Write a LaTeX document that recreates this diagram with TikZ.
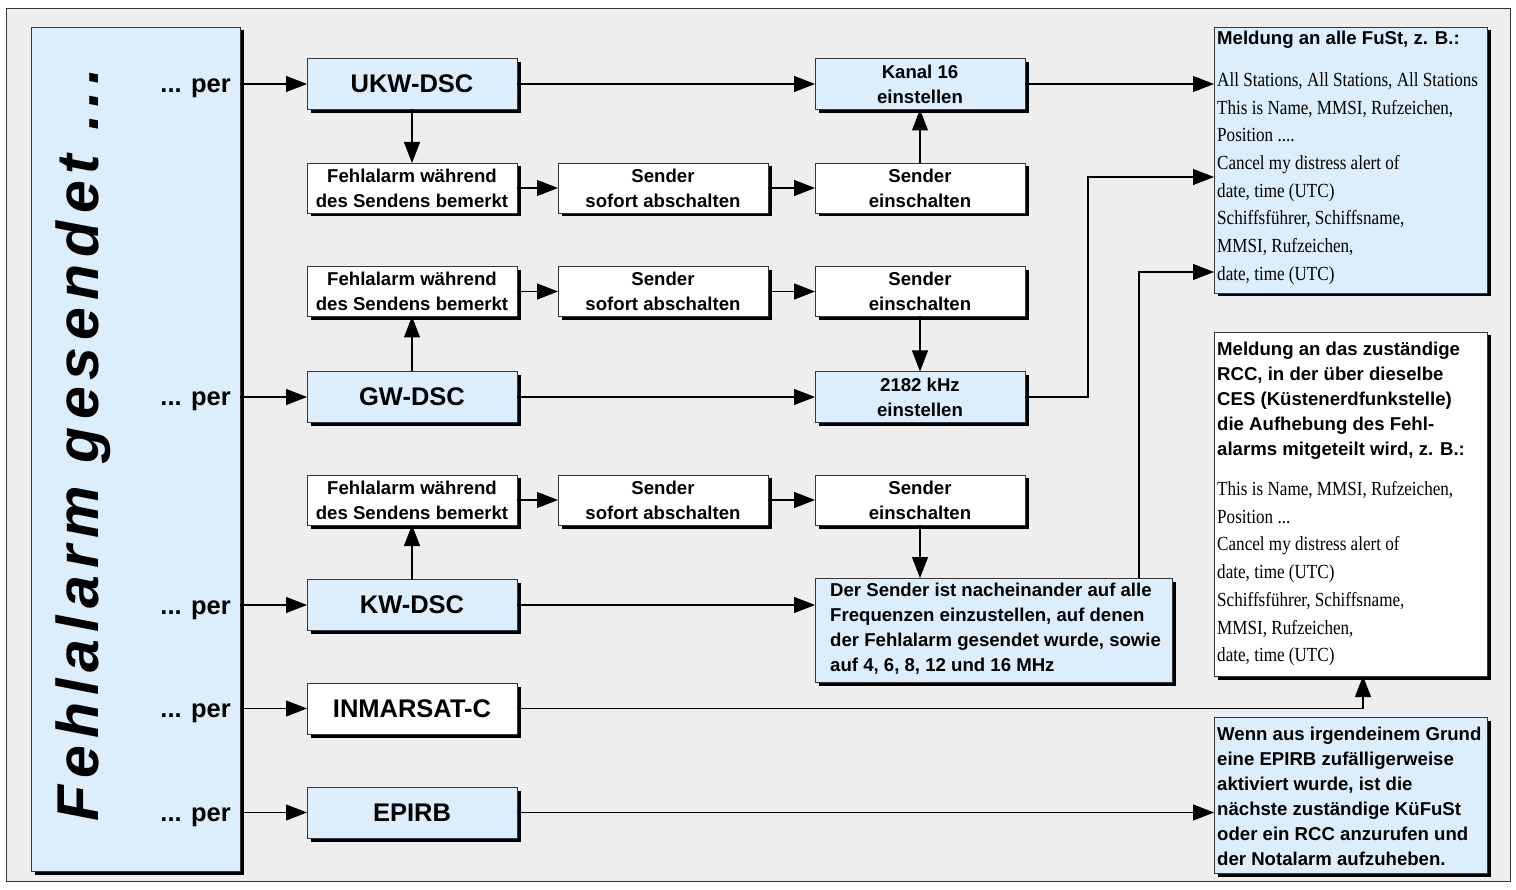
\documentclass[tikz,border=0pt]{standalone}
\usepackage{fontspec}
\usetikzlibrary{arrows.meta,shadows}
\newfontfamily\sansf{Liberation Sans}
\newfontfamily\tnrf{Liberation Serif}[FakeStretch=0.855]
\newfontfamily\titlef{Liberation Sans}[LetterSpace=12]
\newcommand\mainlab{\sansf\bfseries\fontsize{25.5}{30}\selectfont}
\newcommand\smalllab{\sansf\bfseries\fontsize{18.6}{25}\selectfont}
\newcommand\seriflab{\tnrf\fontsize{20}{27.7}\selectfont}
\definecolor{bg}{RGB}{238,238,238}
\definecolor{lb}{RGB}{220,238,252}
\definecolor{bd}{RGB}{55,55,55}
\tikzset{
  nbox/.style={draw=bd, line width=0.9pt, fill=lb, inner sep=0pt, outer sep=0pt, align=center,
    drop shadow={shadow xshift=3.5pt, shadow yshift=-3.5pt, opacity=1, fill=black}},
  bigbox/.style={nbox, minimum width=210pt, minimum height=51pt, font=\mainlab},
  smallbox/.style={nbox, fill=white, minimum width=210pt, minimum height=50pt, font=\smalllab},
  perlab/.style={anchor=base east, inner sep=0pt, font=\mainlab},
  txt/.style={anchor=north west, inner sep=0pt, align=left},
  arr/.style={line width=1.1pt, -{Triangle[length=21pt,width=16pt]}},
}
\begin{document}
\begin{tikzpicture}[x=1pt,y=-1pt]
\useasboundingbox (0,0) rectangle (1516,890);
\draw[draw=bd, fill=bg, line width=1pt] (6,9) rectangle (1510,881);
% left column
\node[nbox, minimum width=209pt, minimum height=844pt] (left) at (135.5,449) {};
\node[anchor=base west, rotate=90, inner sep=0pt, font=\titlef\bfseries\itshape\fontsize{59}{60}\selectfont] (title) at (98,822) {Fehlalarm gesendet ...};
\node[perlab] (per1) at (231,93) {... per};
\node[perlab] (per2) at (231,406) {... per};
\node[perlab] (per3) at (231,614) {... per};
\node[perlab] (per4) at (231,717.5) {... per};
\node[perlab] (per5) at (231,821.5) {... per};
% first column
\node[bigbox] (ukw) at (412,84) {UKW-DSC};
\node[bigbox] (gw) at (412,397) {GW-DSC};
\node[bigbox] (kw) at (412,605) {KW-DSC};
\node[bigbox, fill=white] (inm) at (412,708.5) {INMARSAT-C};
\node[bigbox] (epirb) at (412,812.5) {EPIRB};
% rows
\node[smallbox] (f1) at (412,188) {Fehlalarm während\\des Sendens bemerkt};
\node[smallbox] (s1) at (663,188) {Sender\\sofort abschalten};
\node[smallbox] (e1) at (920,188) {Sender\\einschalten};
\node[smallbox, fill=lb, minimum height=51pt] (k16) at (920,84) {Kanal 16\\einstellen};
\node[smallbox] (f2) at (412,291.5) {Fehlalarm während\\des Sendens bemerkt};
\node[smallbox] (s2) at (663,291.5) {Sender\\sofort abschalten};
\node[smallbox] (e2) at (920,291.5) {Sender\\einschalten};
\node[smallbox, fill=lb, minimum height=51pt] (k2182) at (920,397) {2182 kHz\\einstellen};
\node[smallbox] (f3) at (412,500) {Fehlalarm während\\des Sendens bemerkt};
\node[smallbox] (s3) at (663,500) {Sender\\sofort abschalten};
\node[smallbox] (e3) at (920,500) {Sender\\einschalten};
\node[nbox, minimum width=357pt, minimum height=104pt] (ds) at (993.5,630) {};
\node[txt, font=\smalllab] (dst) at (830,582.4) {Der Sender ist nacheinander auf alle\\Frequenzen einzustellen, auf denen\\der Fehlalarm gesendet wurde, sowie\\auf 4, 6, 8, 12 und 16 MHz};
% right boxes
\node[nbox, minimum width=273pt, minimum height=266pt] (r1) at (1350.5,160) {};
\node[anchor=base west, inner sep=0pt, font=\smalllab] (r1h) at (1217,45) {Meldung an alle FuSt, z. B.:};
\node[txt, font=\seriflab] (r1t) at (1217,72.3) {All Stations, All Stations, All Stations\\This is Name, MMSI, Rufzeichen,\\Position ....\\Cancel my distress alert of\\date, time (UTC)\\Schiffsführer, Schiffsname,\\MMSI, Rufzeichen,\\date, time (UTC)};
\node[nbox, fill=white, minimum width=273pt, minimum height=344pt] (r2) at (1350.5,504) {};
\node[txt, font=\smalllab] (r2h) at (1217,341.4) {Meldung an das zuständige\\RCC, in der über dieselbe\\CES (Küstenerdfunkstelle)\\die Aufhebung des Fehl-\\alarms mitgeteilt wird, z. B.:};
\node[txt, font=\seriflab] (r2t) at (1217,481.3) {This is Name, MMSI, Rufzeichen,\\Position ...\\Cancel my distress alert of\\date, time (UTC)\\Schiffsführer, Schiffsname,\\MMSI, Rufzeichen,\\date, time (UTC)};
\node[nbox, minimum width=273pt, minimum height=156pt] (r3) at (1350.5,795) {};
\node[txt, font=\smalllab] (r3t) at (1217,726.4) {Wenn aus irgendeinem Grund\\eine EPIRB zufälligerweise\\aktiviert wurde, ist die\\nächste zuständige KüFuSt\\oder ein RCC anzurufen und\\der Notalarm aufzuheben.};
% bend coordinates
\coordinate (b2) at (1088,177);
\coordinate (b3) at (1139,272);
\coordinate (b4) at (1363,0);
% connectors from left box
\foreach \n in {ukw,gw,kw,inm,epirb} \draw[arr] (\n.west -| left.east) -- (\n.west);
% row 1
\draw[arr] (ukw.east) -- (k16.west);
\draw[arr] (ukw.south) -- (f1.north);
\draw[arr] (f1.east) -- (s1.west);
\draw[arr] (s1.east) -- (e1.west);
\draw[arr] (e1.north) -- (k16.south);
% row 2
\draw[arr] (gw.north) -- (f2.south);
\draw[arr] (f2.east) -- (s2.west);
\draw[arr] (s2.east) -- (e2.west);
\draw[arr] (e2.south) -- (k2182.north);
\draw[arr] (gw.east) -- (k2182.west);
% row 3
\draw[arr] (kw.north) -- (f3.south);
\draw[arr] (f3.east) -- (s3.west);
\draw[arr] (s3.east) -- (e3.west);
\draw[arr] (e3.south) -- (e3.south |- ds.north);
\draw[arr] (kw.east) -- (kw.east -| ds.west);
% to right boxes
\draw[arr] (k16.east) -- (k16.east -| r1.west);
\draw[arr] (k2182.east) -| (b2) -- (b2 -| r1.west);
\draw[arr] (ds.north -| b3) -- (b3) -- (b3 -| r1.west);
\draw[arr] (inm.east) -| (b4 |- r2.south);
\draw[arr] (epirb.east) -- (epirb.east -| r3.west);
\end{tikzpicture}
\end{document}
